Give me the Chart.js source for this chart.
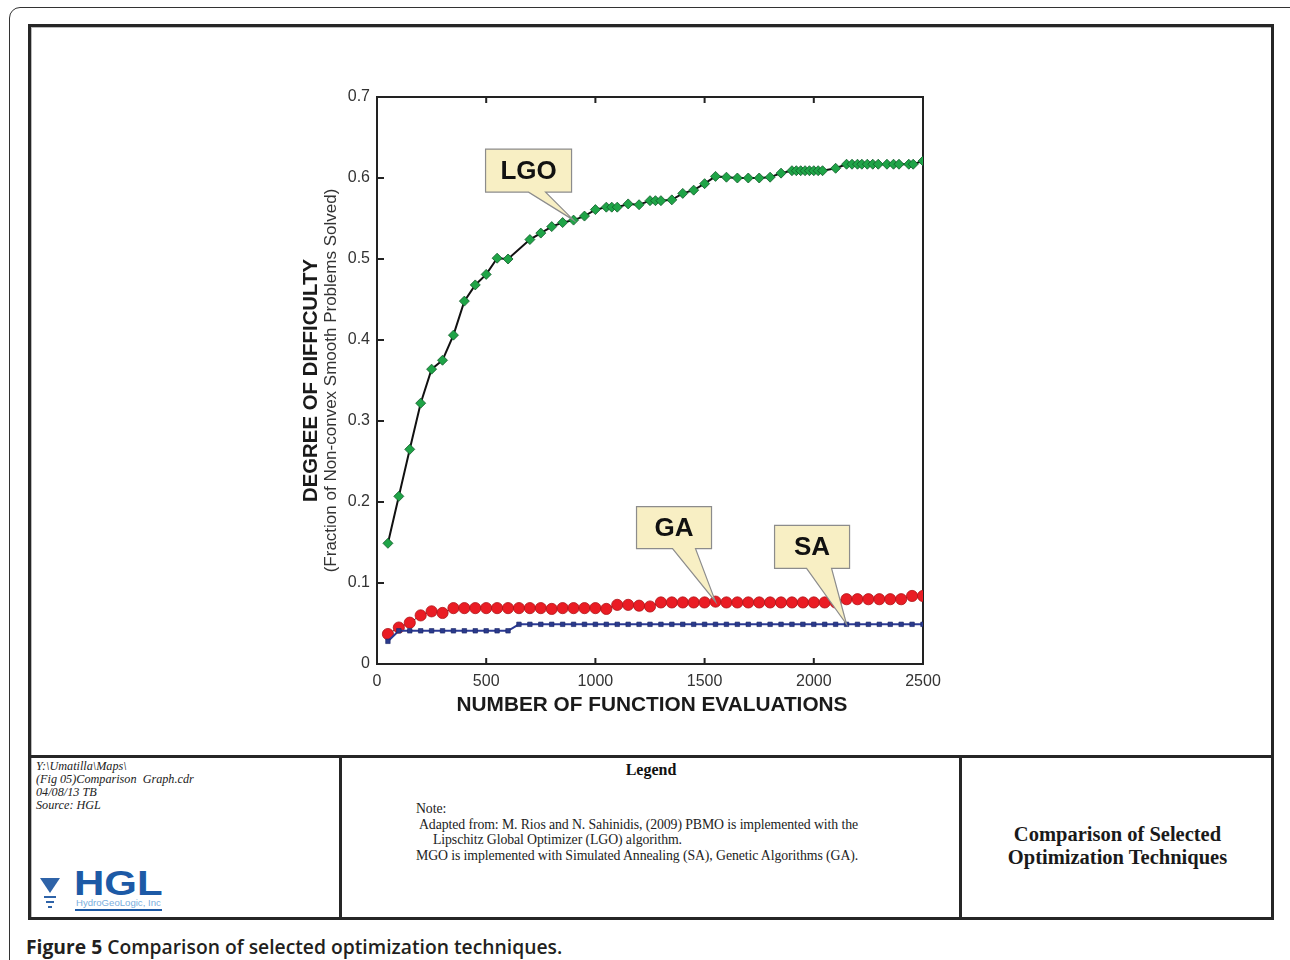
<!DOCTYPE html>
<html>
<head>
<meta charset="utf-8">
<script src="https://cdn.jsdelivr.net/npm/chart.js@4.4.0/dist/chart.umd.min.js"></script>
<style>
  html, body { margin: 0; padding: 0; background: #fff; }
  body { width: 1290px; height: 960px; position: relative; overflow: hidden; }
  .abs { position: absolute; }
  #outer { left: 9px; top: 7px; width: 1290px; height: 1000px; border: 1.5px solid #333; border-radius: 11px; }
  #sheet { left: 28px; top: 24px; width: 1240px; height: 890px; border: 3px solid #262626; box-shadow: inset 1px 1px 0 #bbb; }
  #hline { left: 28px; top: 755px; width: 1246px; height: 3px; background: #262626; }
  .vline { top: 757px; width: 3px; height: 163px; background: #262626; }
  #path { left: 36px; top: 760px; font: italic 12.2px "Liberation Serif", serif; line-height: 13px; color: #222; }
  #legendTitle { left: 341px; width: 620px; top: 761px; text-align: center; font: bold 16px "Liberation Serif", serif; color: #111; }
  #note { left: 416px; top: 801px; font: 13.8px "Liberation Serif", serif; line-height: 15.5px; color: #222; white-space: nowrap; letter-spacing: -0.1px; }
  #boxTitle { left: 961px; width: 313px; top: 823px; text-align: center; font: bold 20.5px "Liberation Serif", serif; line-height: 23px; color: #1a1a1a; }
  #tri { left: 40px; top: 878px; width: 0; height: 0; border-left: 10px solid transparent; border-right: 10px solid transparent; border-top: 15px solid #2e63a8; }
  .wave { left: 44px; width: 12px; height: 2px; background: #2e63a8; }
  #hgl { left: 74px; top: 863px; font: bold 35px "Liberation Sans", Arial, sans-serif; color: #1d5aa6; transform: scaleX(1.2); transform-origin: left top; }
  #hglSub { left: 76px; top: 897px; font: 9.6px "Liberation Sans", Arial, sans-serif; color: #7aaedd; }
  #hglBar { left: 75px; top: 909px; width: 87px; height: 2px; background: #1d5aa6; }
  #caption { left: 26px; top: 933px; font: 600 19.3px "Open Sans", sans-serif; color: #231f20; }
  #caption b { font-weight: 700; }
  #chart { position: absolute; left: 0; top: 0; }
</style>
</head>
<body>
<div class="abs" id="outer"></div>
<div class="abs" id="sheet"></div>
<div class="abs" id="hline"></div>
<div class="abs vline" style="left:339px"></div>
<div class="abs vline" style="left:959px"></div>

<div class="abs" id="path">Y:\Umatilla\Maps\<br>(Fig 05)Comparison&nbsp; Graph.cdr<br>04/08/13 TB<br>Source: HGL</div>
<div class="abs" id="tri"></div>
<div class="abs wave" style="top:896px"></div>
<div class="abs wave" style="top:901px;left:46px;width:8px"></div>
<div class="abs wave" style="top:906px;left:48px;width:4px"></div>
<div class="abs" id="hgl">HGL</div>
<div class="abs" id="hglSub">HydroGeoLogic, Inc</div>
<div class="abs" id="hglBar"></div>

<div class="abs" id="legendTitle">Legend</div>
<div class="abs" id="note">Note:<br><span style="padding-left:3px">Adapted from: M. Rios and N. Sahinidis, (2009) PBMO is implemented with the</span><br><span style="padding-left:17px">Lipschitz Global Optimizer (LGO) algorithm.</span><br>MGO is implemented with Simulated Annealing (SA), Genetic Algorithms (GA).</div>
<div class="abs" id="boxTitle">Comparison of Selected<br>Optimization Techniques</div>

<div class="abs" id="caption"><b>Figure 5</b> Comparison of selected optimization techniques.</div>

<canvas id="chart" width="1290" height="960"></canvas>

<script>
// function evaluations where LGO was sampled (irregular spacing)
var lgoEvals = [50,100,150,200,250,300,350,400,450,500,550,600,700,750,800,850,900,950,1000,
  1050,1075,1100,1150,1200,1250,1275,1300,1350,1400,1450,1500,1550,1600,1650,1700,1750,1800,1850,
  1900,1920,1940,1960,1980,2000,2020,2040,2100,
  2150,2175,2200,2220,2245,2270,2295,2335,2365,2390,2435,2455,2500];
var lgoValues = [0.149,0.207,0.265,0.322,0.364,0.375,0.406,0.448,0.468,0.481,0.501,0.500,0.524,0.532,0.540,0.545,0.548,0.553,0.561,
  0.564,0.564,0.564,0.568,0.567,0.572,0.572,0.572,0.573,0.581,0.585,0.593,0.602,0.601,0.600,0.600,0.600,0.601,0.606,
  0.609,0.609,0.609,0.609,0.609,0.609,0.609,0.609,0.612,
  0.617,0.617,0.617,0.617,0.617,0.617,0.617,0.617,0.617,0.617,0.617,0.617,0.621];

// GA and SA share the same evaluation grid
var evals = [50,100,150,200,250,300,350,400,450,500,550,600,650,700,750,800,850,900,950,1000,
  1050,1100,1150,1200,1250,1300,1350,1400,1450,1500,1550,1600,1650,1700,1750,1800,1850,1900,1950,2000,
  2050,2100,2150,2200,2250,2300,2350,2400,2450,2500];
var gaValues = [0.037,0.045,0.051,0.060,0.065,0.063,0.069,0.069,0.069,0.069,0.069,0.069,0.069,0.069,0.069,0.068,0.069,0.069,0.069,0.069,
  0.068,0.073,0.073,0.072,0.071,0.076,0.076,0.076,0.076,0.076,0.077,0.076,0.076,0.076,0.076,0.076,0.076,0.076,0.076,0.076,
  0.076,0.076,0.080,0.080,0.080,0.080,0.080,0.080,0.084,0.084];
var saValues = [0.028,0.041,0.041,0.041,0.041,0.041,0.041,0.041,0.041,0.041,0.041,0.041,0.049,0.049,0.049,0.049,0.049,0.049,0.049,0.049,
  0.049,0.049,0.049,0.049,0.049,0.049,0.049,0.049,0.049,0.049,0.049,0.049,0.049,0.049,0.049,0.049,0.049,0.049,0.049,0.049,
  0.049,0.049,0.049,0.049,0.049,0.049,0.049,0.049,0.049,0.049];

var xTickLabels = ['0','500','1000','1500','2000','2500'];
var yTickLabels = ['0','0.1','0.2','0.3','0.4','0.5','0.6','0.7'];

// callouts: label, dataset index, point index, box offset from tip
var callouts = [
  { text: 'LGO', ds: 0, idx: 16, dx: -88, dy: -71, w: 86, h: 43, t1: -45, t2: -28 },
  { text: 'GA',  ds: 2, idx: 30, dx: -79, dy: -95, w: 75, h: 42, t1: -43, t2: -20 },
  { text: 'SA',  ds: 1, idx: 42, dx: -72, dy: -99, w: 75, h: 43, t1: -40, t2: -15 }
];

function pairs(xs, ys) {
  return xs.map(function (x, i) { return { x: x, y: ys[i] }; });
}

var FONT = '"Liberation Sans", Arial, sans-serif';

var framePlugin = {
  id: 'frame',
  beforeDatasetsDraw: function (chart) {
    var ctx = chart.ctx, a = chart.chartArea, x = chart.scales.x, y = chart.scales.y;
    ctx.save();
    ctx.strokeStyle = '#222';
    ctx.lineWidth = 2;
    ctx.strokeRect(a.left, a.top, a.right - a.left, a.bottom - a.top);
    ctx.beginPath();
    x.ticks.forEach(function (t) {
      var px = x.getPixelForValue(t.value);
      ctx.moveTo(px, a.bottom); ctx.lineTo(px, a.bottom - 6);
      ctx.moveTo(px, a.top); ctx.lineTo(px, a.top + 6);
    });
    y.ticks.forEach(function (t) {
      var py = y.getPixelForValue(t.value);
      ctx.moveTo(a.left, py); ctx.lineTo(a.left + 7, py);
    });
    ctx.stroke();

    // axis titles
    ctx.fillStyle = '#1a1a1a';
    ctx.textAlign = 'center';
    ctx.textBaseline = 'middle';
    ctx.font = 'bold 20.8px ' + FONT;
    ctx.fillText('NUMBER OF FUNCTION EVALUATIONS', (a.left + a.right) / 2 + 2, a.bottom + 41);
    ctx.translate(a.left - 66, (a.top + a.bottom) / 2);
    ctx.rotate(-Math.PI / 2);
    ctx.font = 'bold 20.4px ' + FONT;
    ctx.fillText('DEGREE OF DIFFICULTY', 0, 0);
    ctx.font = '17px ' + FONT;
    ctx.fillStyle = '#333';
    ctx.fillText('(Fraction of Non-convex Smooth Problems Solved)', 0, 20);
    ctx.restore();
  },
  afterDatasetsDraw: function (chart) {
    var ctx = chart.ctx;
    ctx.save();
    callouts.forEach(function (c) {
      var pt = chart.getDatasetMeta(c.ds).data[c.idx];
      var tx = pt.x, ty = pt.y;
      var bx = tx + c.dx, by = ty + c.dy;
      ctx.beginPath();
      ctx.moveTo(bx, by);
      ctx.lineTo(bx + c.w, by);
      ctx.lineTo(bx + c.w, by + c.h);
      ctx.lineTo(tx + c.t2, by + c.h);
      ctx.lineTo(tx, ty);
      ctx.lineTo(tx + c.t1, by + c.h);
      ctx.lineTo(bx, by + c.h);
      ctx.closePath();
      ctx.fillStyle = '#f8efc4';
      ctx.fill();
      ctx.strokeStyle = '#8c8c8c';
      ctx.lineWidth = 1.2;
      ctx.stroke();
      ctx.fillStyle = '#111';
      ctx.font = 'bold 26px ' + FONT;
      ctx.textAlign = 'center';
      ctx.textBaseline = 'middle';
      ctx.fillText(c.text, bx + c.w / 2, by + c.h / 2 + 1);
    });
    ctx.restore();
  }
};

new Chart(document.getElementById('chart'), {
  type: 'line',
  data: {
    datasets: [
      {
        label: 'LGO',
        data: pairs(lgoEvals, lgoValues),
        borderColor: '#111',
        borderWidth: 2,
        pointStyle: 'rectRot',
        pointRadius: 5,
        pointBackgroundColor: '#1fa447',
        pointBorderColor: '#0f5a28',
        pointBorderWidth: 0.8,
        tension: 0
      },
      {
        label: 'SA',
        data: pairs(evals, saValues),
        borderColor: '#2b3a94',
        borderWidth: 2,
        pointStyle: 'rect',
        pointRadius: 3.2,
        pointBackgroundColor: '#2a3a8c',
        pointBorderColor: '#1c2666',
        pointBorderWidth: 0.6,
        tension: 0
      },
      {
        label: 'GA',
        data: pairs(evals, gaValues),
        borderColor: '#333',
        borderWidth: 1,
        pointStyle: 'circle',
        pointRadius: 5.6,
        pointBackgroundColor: '#ea1c24',
        pointBorderColor: '#b01418',
        pointBorderWidth: 0.8,
        tension: 0
      }
    ]
  },
  options: {
    responsive: false,
    animation: false,
    layout: { padding: { top: 97, right: 367, left: 0, bottom: 0 } },
    plugins: { legend: { display: false }, tooltip: { enabled: false } },
    scales: {
      x: {
        type: 'linear',
        min: 0, max: 2500,
        afterFit: function (s) { s.height = 296; },
        grid: { display: false, drawTicks: false },
        border: { display: false },
        ticks: {
          stepSize: 500,
          padding: 8,
          color: '#333',
          font: { family: FONT, size: 16 },
          maxRotation: 0,
          callback: function (v, i) { return xTickLabels[i]; }
        }
      },
      y: {
        min: 0, max: 0.7,
        afterFit: function (s) { s.width = 377; },
        grid: { display: false, drawTicks: false },
        border: { display: false },
        ticks: {
          stepSize: 0.1,
          padding: 7,
          color: '#333',
          font: { family: FONT, size: 16 },
          callback: function (v, i) { return yTickLabels[i]; }
        }
      }
    }
  },
  plugins: [framePlugin]
});
</script>
</body>
</html>
